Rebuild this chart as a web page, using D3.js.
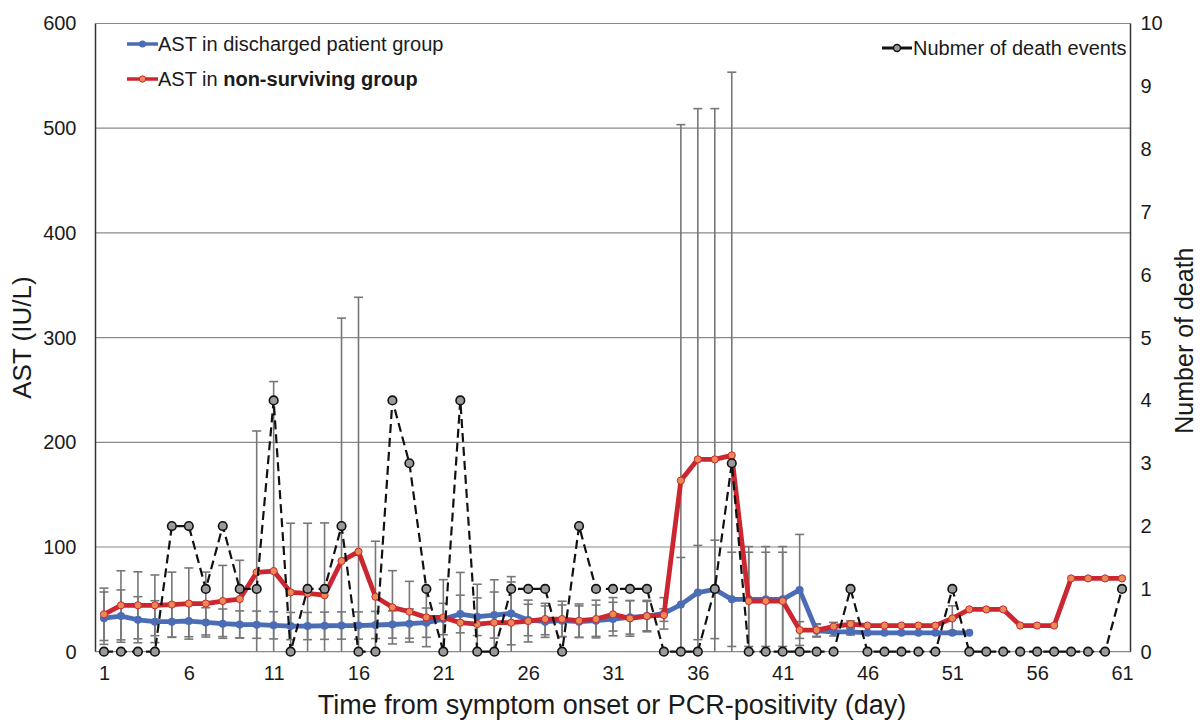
<!DOCTYPE html>
<html>
<head>
<meta charset="utf-8">
<script src="https://d3js.org/d3.v7.min.js"></script>
<style>
  html, body { margin: 0; padding: 0; background: #fff; }
  svg { display: block; font-family: "Liberation Sans", Arial, sans-serif; }
</style>
</head>
<body>
<svg id="chart" width="1200" height="722"></svg>
<script>
// ---------- DATA ----------
const days = d3.range(1, 62);
const xTickLabels = [1, 6, 11, 16, 21, 26, 31, 36, 41, 46, 51, 56, 61];
const yTicksLeft = [0, 100, 200, 300, 400, 500, 600];
const yTicksRight = [0, 1, 2, 3, 4, 5, 6, 7, 8, 9, 10];

// AST in discharged patient group (days 1-52)
const astDischarged = [32, 34, 30.5, 28.7, 28.7, 29.3, 28, 26.8, 26, 25.8,
  25.2, 24.5, 24.5, 24.8, 25, 25, 25.5, 26, 26.8, 27.7,
  31.2, 36, 33.4, 35, 36.6, 30.3, 28.7, 29.6, 28.7, 29.6,
  31.2, 32.8, 34, 36.6, 45, 56.5, 59.5, 50, 50, 50,
  50, 59, 20, 19, 19, 18, 18, 18, 18, 18,
  18, 18];
const sdDischarged = [25, 25, 22, 20, 15, 15, 14, 14, 13, 13,
  13, 13, 13, 13, 13, 13, 13, 13, 14, 14,
  15, 18, 18, 22, 30, 15, 15, 15, 15, 15,
  16, 16, 15, 15, 45, 45, 47, 45, 45, 45,
  45, 53, 6, 4, 3, 0, 0, 0, 0, 0,
  0, 0];

// AST in non-surviving group (days 1-61)
const astNonSurviving = [35.7, 44.3, 44.3, 44.3, 45, 46, 46, 48.4, 50.3, 75.8,
  77, 56.7, 55.7, 54, 86.6, 95.5, 52.5, 42.4, 38.2, 32.8,
  32.8, 27.7, 26.4, 27.7, 27.7, 29.3, 31.2, 31.2, 29.6, 31.2,
  35.7, 31.8, 34, 35, 163.4, 183.7, 183.7, 187.5, 48.4, 48.4,
  48.4, 20.7, 20.7, 24, 26.4, 25, 25, 25, 25, 25,
  31.8, 40.4, 40.4, 40.4, 25, 25, 25, 70, 70, 70,
  70];
const sdNonSurviving = [25, 33, 32, 29, 31, 34, 30, 34, 37, 135,
  181, 66, 67, 69, 232, 243, 53, 35, 29, 28,
  36, 48, 38, 41, 44, 20, 15, 17, 16, 18,
  16, 17, 14, 6, 340, 335, 335, 366, 52, 52,
  52, 8, 6, 4, 3, 0, 0, 0, 0, 0,
  12, 0, 0, 0, 0, 0, 0, 0, 0, 0,
  0];

// Number of death events (days 1-61)
const deaths = [0, 0, 0, 0, 2, 2, 1, 2, 1, 1,
  4, 0, 1, 1, 2, 0, 0, 4, 3, 1,
  0, 4, 0, 0, 1, 1, 1, 0, 2, 1,
  1, 1, 1, 0, 0, 0, 1, 3, 0, 0,
  0, 0, 0, 0, 1, 0, 0, 0, 0, 0,
  1, 0, 0, 0, 0, 0, 0, 0, 0, 0,
  1];

const legendLabels = {
  discharged: "AST in discharged patient group",
  nonPrefix: "AST in ",
  nonBold: "non-surviving group",
  deaths: "Nubmer of death events"
};

// ---------- LAYOUT ----------
const svg = d3.select("#chart");
const L = 95.5, R = 1130.5, T = 23.5, B = 651.7;

const x = d3.scalePoint().domain(days).range([L, R]).padding(0.5);
const y = d3.scaleLinear().domain([0, 600]).range([B, T]);
const y2 = d3.scaleLinear().domain([0, 10]).range([B, T]);

const gridColor = "#8a8a8a";
const textColor = "#1a1a1a";
const tickFont = 20;
const titleFont = 27;
const legendFont = 20;

// gridlines
svg.append("g").selectAll("line").data(yTicksLeft).join("line")
  .attr("x1", L).attr("x2", R)
  .attr("y1", d => y(d)).attr("y2", d => y(d))
  .attr("stroke", gridColor).attr("stroke-width", 1.2);

// axes lines (left and right)
svg.append("line").attr("x1", L).attr("x2", L).attr("y1", T).attr("y2", B)
  .attr("stroke", "#333").attr("stroke-width", 1.5);
svg.append("line").attr("x1", R).attr("x2", R).attr("y1", T).attr("y2", B)
  .attr("stroke", "#333").attr("stroke-width", 1.5);

// left axis labels
const leftAxis = d3.axisLeft(y).tickValues(yTicksLeft).tickSize(0).tickPadding(0);
const gL = svg.append("g").attr("transform", `translate(${L - 19},0)`).call(leftAxis);
gL.select(".domain").remove();
gL.selectAll("text").attr("font-size", tickFont).attr("fill", textColor)
  .attr("font-family", "Liberation Sans, Arial, sans-serif");

// right axis labels
const rightAxis = d3.axisRight(y2).tickValues(yTicksRight).tickSize(0).tickPadding(0);
const gR = svg.append("g").attr("transform", `translate(${R + 10},0)`).call(rightAxis);
gR.select(".domain").remove();
gR.selectAll("text").attr("font-size", tickFont).attr("fill", textColor)
  .attr("font-family", "Liberation Sans, Arial, sans-serif");

// bottom axis labels
const bottomAxis = d3.axisBottom(x).tickValues(xTickLabels).tickSize(0).tickPadding(0);
const gB = svg.append("g").attr("transform", `translate(0,${B + 14})`).call(bottomAxis);
gB.select(".domain").remove();
gB.selectAll("text").attr("font-size", tickFont).attr("fill", textColor)
  .attr("font-family", "Liberation Sans, Arial, sans-serif");

// axis titles
svg.append("text").attr("x", 612).attr("y", 714).attr("text-anchor", "middle")
  .attr("font-size", titleFont).attr("fill", textColor)
  .text("Time from symptom onset or PCR-positivity (day)");
svg.append("text").attr("transform", `translate(31,${(T + B) / 2}) rotate(-90)`)
  .attr("text-anchor", "middle").attr("font-size", 26).attr("fill", textColor)
  .text("AST (IU/L)");
svg.append("text").attr("transform", `translate(1193,${(T + B) / 2 + 3}) rotate(-90)`)
  .attr("text-anchor", "middle").attr("font-size", 25).attr("fill", textColor)
  .text("Number of death");

// ---------- ERROR BARS ----------
function errData(means, sds) {
  return means.map((m, i) => ({ day: days[i], m, sd: sds[i] })).filter(d => d.sd > 0);
}
const errColor = "#777";
const capW = 4.5;
function drawErr(data) {
  const g = svg.append("g");
  data.forEach(d => {
    const hiV = Math.min(600, d.m + d.sd);
    const loV = Math.max(0, d.m - d.sd);
    const cx = x(d.day);
    g.append("line").attr("x1", cx).attr("x2", cx)
      .attr("y1", y(hiV)).attr("y2", y(loV))
      .attr("stroke", errColor).attr("stroke-width", 1.6);
    g.append("line").attr("x1", cx - capW).attr("x2", cx + capW)
      .attr("y1", y(hiV)).attr("y2", y(hiV))
      .attr("stroke", errColor).attr("stroke-width", 1.6);
    if (d.m - d.sd > 0) {
      g.append("line").attr("x1", cx - capW).attr("x2", cx + capW)
        .attr("y1", y(loV)).attr("y2", y(loV))
        .attr("stroke", errColor).attr("stroke-width", 1.6);
    }
  });
}
drawErr(errData(astDischarged, sdDischarged));
drawErr(errData(astNonSurviving, sdNonSurviving));

// ---------- LINES ----------
const blue = "#4a6db5";
const red = "#cc2630";
const orange = "#ea8a55";

const lineAst = d3.line().x((d, i) => x(days[i])).y(d => y(d));

svg.append("path").datum(astDischarged)
  .attr("d", lineAst).attr("fill", "none")
  .attr("stroke", blue).attr("stroke-width", 4.8).attr("stroke-linejoin", "round");
svg.append("g").selectAll("circle").data(astDischarged).join("circle")
  .attr("cx", (d, i) => x(days[i])).attr("cy", d => y(d)).attr("r", 4)
  .attr("fill", blue);

svg.append("path").datum(astNonSurviving)
  .attr("d", lineAst).attr("fill", "none")
  .attr("stroke", red).attr("stroke-width", 4.8).attr("stroke-linejoin", "round");
svg.append("g").selectAll("circle").data(astNonSurviving).join("circle")
  .attr("cx", (d, i) => x(days[i])).attr("cy", d => y(d)).attr("r", 3.6)
  .attr("fill", orange).attr("stroke", red).attr("stroke-width", 1);

// deaths line
const lineDeath = d3.line().x((d, i) => x(days[i])).y(d => y2(d));
svg.append("path").datum(deaths)
  .attr("d", lineDeath).attr("fill", "none")
  .attr("stroke", "#111").attr("stroke-width", 2.2)
  .attr("stroke-dasharray", "9,5");
svg.append("g").selectAll("circle").data(deaths).join("circle")
  .attr("cx", (d, i) => x(days[i])).attr("cy", d => y2(d)).attr("r", 4.3)
  .attr("fill", "#9a9a9a").attr("stroke", "#111").attr("stroke-width", 1.6);

// ---------- LEGEND ----------
const leg = svg.append("g");
// discharged
leg.append("line").attr("x1", 127).attr("x2", 158).attr("y1", 44).attr("y2", 44)
  .attr("stroke", blue).attr("stroke-width", 3.5);
leg.append("circle").attr("cx", 142.5).attr("cy", 44).attr("r", 3.5).attr("fill", blue);
leg.append("text").attr("x", 158).attr("y", 51).attr("font-size", legendFont).attr("fill", textColor)
  .text(legendLabels.discharged);
// non-surviving
leg.append("line").attr("x1", 127).attr("x2", 158).attr("y1", 79).attr("y2", 79)
  .attr("stroke", red).attr("stroke-width", 3.5);
leg.append("circle").attr("cx", 142.5).attr("cy", 79).attr("r", 3.2)
  .attr("fill", orange).attr("stroke", red).attr("stroke-width", 1);
const t2 = leg.append("text").attr("x", 158).attr("y", 86).attr("font-size", legendFont).attr("fill", textColor);
t2.append("tspan").text(legendLabels.nonPrefix);
t2.append("tspan").attr("font-weight", "bold").text(legendLabels.nonBold);
// deaths
leg.append("line").attr("x1", 882).attr("x2", 912).attr("y1", 48).attr("y2", 48)
  .attr("stroke", "#111").attr("stroke-width", 3);
leg.append("circle").attr("cx", 897).attr("cy", 48).attr("r", 3.5)
  .attr("fill", "#9a9a9a").attr("stroke", "#111").attr("stroke-width", 1.4);
leg.append("text").attr("x", 913).attr("y", 55).attr("font-size", legendFont).attr("fill", textColor)
  .text(legendLabels.deaths);
</script>
</body>
</html>
